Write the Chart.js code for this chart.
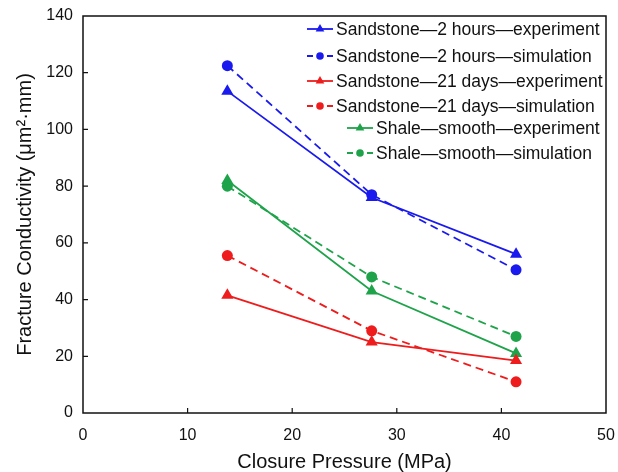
<!DOCTYPE html>
<html>
<head>
<meta charset="utf-8">
<script src="https://cdn.jsdelivr.net/npm/chart.js@4/dist/chart.umd.min.js"></script>
<style>
  html, body { margin: 0; padding: 0; background: #fff; }
  #wrap { width: 618px; height: 472px; position: relative; }
</style>
</head>
<body>
<div id="wrap"><canvas id="fracChart" width="618" height="472"></canvas></div>
<script>
// closure pressure (MPa)
const pressure = [13.8, 27.6, 41.4];

// fracture conductivity (um2.mm)
const sand2hExp = [113.5, 76, 56];
const sand2hSim = [122.5, 77, 50.5];
const sand21dExp = [41.5, 25, 18.5];
const sand21dSim = [55.5, 29, 11];
const shaleExp = [82, 43, 21];
const shaleSim = [80, 48, 27];

const seriesNames = [
  'Sandstone\u20142 hours\u2014experiment',
  'Sandstone\u20142 hours\u2014simulation',
  'Sandstone\u201421 days\u2014experiment',
  'Sandstone\u201421 days\u2014simulation',
  'Shale\u2014smooth\u2014experiment',
  'Shale\u2014smooth\u2014simulation'
];

const xTicks = [0, 10, 20, 30, 40, 50];
const yTicks = [0, 20, 40, 60, 80, 100, 120, 140];

const BLUE = '#1a1aee';
const RED = '#ee1c1c';
const GREEN = '#1ea34a';

function toPoints(vals) {
  return vals.map((v, i) => ({x: pressure[i], y: v}));
}

function makeSet(label, vals, color, sim) {
  return {
    label: label,
    data: toPoints(vals),
    borderColor: color,
    backgroundColor: color,
    borderWidth: 1.8,
    borderDash: sim ? [8, 5] : [],
    pointStyle: sim ? 'circle' : 'triangle',
    pointRadius: sim ? 5.5 : 7,
    pointBorderWidth: 0,
    showLine: true,
    tension: 0
  };
}

// legend rows: [x of line start, y of row centre]
const legendRows = [[307, 29], [307, 56], [307, 81], [307, 106], [347, 128], [347, 153]];

const boxPlugin = {
  id: 'boxPlugin',
  afterDraw(chart) {
    const ctx = chart.ctx;
    const a = chart.chartArea;
    const xs = chart.scales.x, ys = chart.scales.y;
    ctx.save();
    ctx.strokeStyle = '#111';
    ctx.lineWidth = 1.5;
    ctx.strokeRect(a.left, a.top, a.right - a.left, a.bottom - a.top);
    ctx.lineWidth = 1.2;
    ctx.beginPath();
    xTicks.slice(1, -1).forEach(t => {
      const px = xs.getPixelForValue(t);
      ctx.moveTo(px, a.bottom);
      ctx.lineTo(px, a.bottom - 5);
    });
    yTicks.slice(1, -1).forEach(t => {
      const py = ys.getPixelForValue(t);
      ctx.moveTo(a.left, py);
      ctx.lineTo(a.left + 5, py);
    });
    ctx.stroke();

    // legend
    ctx.font = '17.5px "Liberation Sans", Arial, sans-serif';
    ctx.textBaseline = 'alphabetic';
    chart.data.datasets.forEach((ds, i) => {
      const [lx, ly] = legendRows[i];
      ctx.strokeStyle = ds.borderColor;
      ctx.lineWidth = 1.8;
      ctx.setLineDash(ds.borderDash.length ? [6, 4] : []);
      ctx.beginPath();
      ctx.moveTo(lx, ly);
      ctx.lineTo(lx + 26, ly);
      ctx.stroke();
      ctx.setLineDash([]);
      ctx.fillStyle = ds.backgroundColor;
      Chart.helpers.drawPoint(ctx, {pointStyle: ds.pointStyle, radius: ds.pointStyle === 'circle' ? 3.8 : 5, rotation: 0, borderWidth: 0}, lx + 13, ly);
      ctx.fillStyle = '#111';
      ctx.fillText(ds.label, lx + 29, ly + 6);
    });
    ctx.restore();
  }
};

new Chart(document.getElementById('fracChart'), {
  type: 'scatter',
  data: {
    datasets: [
      makeSet(seriesNames[0], sand2hExp, BLUE, false),
      makeSet(seriesNames[1], sand2hSim, BLUE, true),
      makeSet(seriesNames[2], sand21dExp, RED, false),
      makeSet(seriesNames[3], sand21dSim, RED, true),
      makeSet(seriesNames[4], shaleExp, GREEN, false),
      makeSet(seriesNames[5], shaleSim, GREEN, true)
    ]
  },
  options: {
    responsive: false,
    animation: false,
    layout: { padding: { left: 0, right: 12, top: 16, bottom: 0 } },
    plugins: {
      legend: { display: false },
      tooltip: { enabled: false }
    },
    scales: {
      x: {
        type: 'linear',
        min: 0,
        max: 50,
        afterBuildTicks: s => { s.ticks = xTicks.map(v => ({value: v})); },
        afterFit: s => { s.height = 59; s.paddingLeft = 0; s.paddingRight = 0; },
        grid: { display: false, drawTicks: false },
        border: { display: false },
        ticks: {
          color: '#111',
          padding: 13,
          maxRotation: 0,
          font: { family: '"Liberation Sans", Arial, sans-serif', size: 16 }
        },
        title: {
          display: true,
          text: 'Closure Pressure (MPa)',
          color: '#111',
          padding: { top: 0, bottom: 0 },
          font: { family: '"Liberation Sans", Arial, sans-serif', size: 20, lineHeight: 1 }
        }
      },
      y: {
        type: 'linear',
        min: 0,
        max: 140,
        afterBuildTicks: s => { s.ticks = yTicks.map(v => ({value: v})); },
        afterFit: s => { s.width = 83; s.paddingTop = 0; s.paddingBottom = 0; },
        grid: { display: false, drawTicks: false },
        border: { display: false },
        ticks: {
          color: '#111',
          padding: 10,
          font: { family: '"Liberation Sans", Arial, sans-serif', size: 16 }
        },
        title: {
          display: true,
          text: 'Fracture Conductivity (\u03bcm\u00b2\u00b7mm)',
          color: '#111',
          padding: { top: 15, bottom: 0 },
          font: { family: '"Liberation Sans", Arial, sans-serif', size: 20, lineHeight: 1 }
        }
      }
    }
  },
  plugins: [boxPlugin]
});
</script>
</body>
</html>
